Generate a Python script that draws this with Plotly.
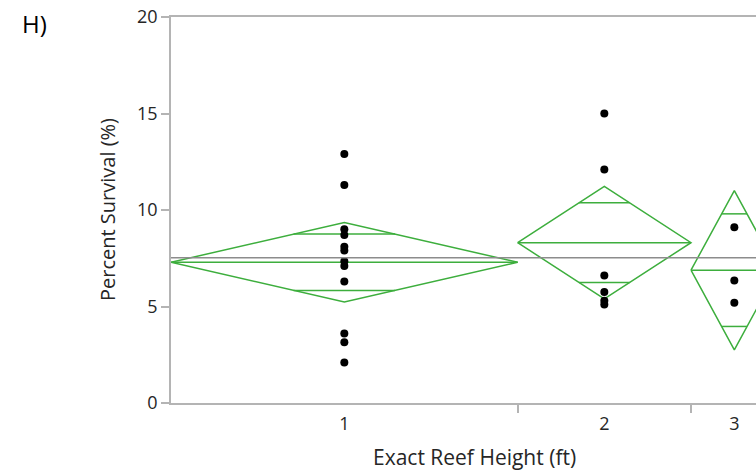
import math
import plotly.graph_objects as go

# Percent survival by exact reef height (ft)
heights = ["1", "2", "3"]
survival_h1 = [12.9, 11.3, 9.0, 8.7, 8.1, 7.9, 7.35, 7.1, 6.3, 3.6, 3.15, 2.1]
survival_h2 = [15.0, 12.1, 6.6, 5.75, 5.3, 5.1]
survival_h3 = [9.1, 6.35, 5.2]
groups = [survival_h1, survival_h2, survival_h3]

T_975_DF18 = 2.1009  # two-sided 95% t quantile, 18 error df

GREEN = "#3DAE3D"
AXIS = "#B4B4B4"
TEXT = "#262626"
FONT = "Open Sans"

# pooled one-way ANOVA statistics
ns = [len(g) for g in groups]
means = [sum(g) / len(g) for g in groups]
sse = sum(sum((v - m) ** 2 for v in g) for g, m in zip(groups, means))
df_err = sum(ns) - len(groups)
s_pooled = math.sqrt(sse / df_err)
grand_mean = sum(sum(g) for g in groups) / sum(ns)

# each level gets a band whose width is proportional to its sample size
lefts, centers, rights = [], [], []
pos = 0
for n in ns:
    lefts.append(pos)
    centers.append(pos + n / 2)
    pos += n
    rights.append(pos)
total = pos
x_max = 20.25

fig = go.Figure()

for g, n, m, lo, c, hi in zip(groups, ns, means, lefts, centers, rights):
    ci = T_975_DF18 * s_pooled / math.sqrt(n)
    half_w = (hi - lo) / 2
    line = dict(color=GREEN, width=1.5)
    # means diamond
    fig.add_trace(go.Scatter(x=[lo, c, hi, c, lo], y=[m, m + ci, m, m - ci, m],
                             mode="lines", line=line, hoverinfo="skip"))
    # group mean
    fig.add_trace(go.Scatter(x=[lo, hi], y=[m, m], mode="lines", line=line,
                             hoverinfo="skip"))
    # overlap marks at mean +/- ci/sqrt(2)
    off = ci / math.sqrt(2)
    hw = half_w * (1 - 1 / math.sqrt(2))
    for yv in (m + off, m - off):
        fig.add_trace(go.Scatter(x=[c - hw, c + hw], y=[yv, yv], mode="lines",
                                 line=line, hoverinfo="skip"))

# grand mean reference line (also carries the boundary-tick axis)
fig.add_trace(go.Scatter(x=[0, total], y=[grand_mean, grand_mean], mode="lines",
                         line=dict(color="#8C8C8C", width=1.5), xaxis="x2",
                         hoverinfo="skip"))

# observations
for g, c in zip(groups, centers):
    fig.add_trace(go.Scatter(x=[c] * len(g), y=g, mode="markers",
                             marker=dict(color="black", size=8), hoverinfo="skip"))

fig.update_layout(
    width=756, height=473, autosize=False,
    margin=dict(l=171, r=0, t=17, b=70),
    plot_bgcolor="white", paper_bgcolor="white",
    showlegend=False,
    font=dict(family=FONT, size=18, color=TEXT),
    xaxis=dict(range=[0, x_max], tickvals=centers, ticktext=heights,
               ticks="outside", ticklen=4, tickcolor="rgba(0,0,0,0)",
               showgrid=False, zeroline=False, showline=True, linecolor=AXIS,
               linewidth=1.5, mirror=True, fixedrange=True),
    xaxis2=dict(range=[0, x_max], overlaying="x", anchor="y", side="bottom",
                tickvals=rights[:-1], showticklabels=False, ticks="outside",
                ticklen=9, tickcolor=AXIS, tickwidth=1.5, showgrid=False,
                zeroline=False, showline=False),
    yaxis=dict(range=[0, 20], tickvals=[0, 5, 10, 15, 20], ticks="outside",
               ticklen=8, tickcolor=AXIS, tickwidth=1.5, showgrid=False,
               zeroline=False, showline=True, linecolor=AXIS, linewidth=1.5),
    annotations=[
        dict(text="Exact Reef Height (ft)", x=total / 2, xref="x", y=-0.140,
             yref="paper", xanchor="center", yanchor="middle", showarrow=False,
             font=dict(size=21)),
        dict(text="Percent Survival (%)", x=-0.1094, xref="paper", y=0.5,
             yref="paper", textangle=-90, xanchor="center", yanchor="middle",
             showarrow=False, font=dict(size=20)),
        dict(text="H)", x=-0.258, xref="paper", y=0.983, yref="paper",
             xanchor="left", yanchor="middle", showarrow=False,
             font=dict(size=24, color="black")),
    ],
)

fig.write_html("out.html")
